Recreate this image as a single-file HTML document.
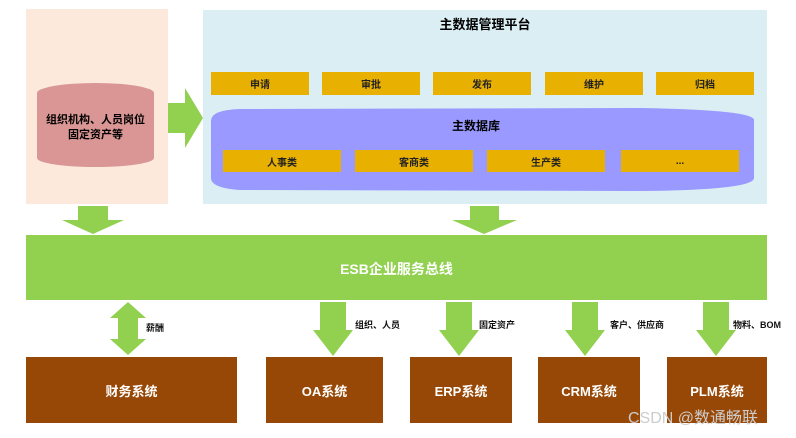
<!DOCTYPE html>
<html><head><meta charset="utf-8"><style>
body{margin:0;background:#fff;width:796px;height:438px;overflow:hidden;position:relative;font-family:"Liberation Sans","Noto Sans CJK SC",sans-serif}
.a{position:absolute}
.y{position:absolute;background:#e8b000;font-size:10px;font-weight:bold;display:flex;align-items:center;justify-content:center;color:#222}
.b{position:absolute;background:#984806;color:#fff;font-weight:bold;font-size:13px;display:flex;align-items:center;justify-content:center;top:357px;height:66px}
.l{position:absolute;font-size:9px;font-weight:bold;color:#111}
</style></head><body>
<div class="a" style="left:26px;top:9px;width:142px;height:195px;background:#fce9dc"></div>
<div class="a" style="left:203px;top:10px;width:564px;height:194px;background:#dbeef4"></div>
<svg class="a" style="left:0;top:0" width="796" height="438">
<ellipse cx="95.5" cy="93" rx="58.5" ry="10" fill="#d99694"/>
<rect x="37" y="93" width="117" height="65" fill="#d99694"/>
<ellipse cx="95.5" cy="158" rx="58.5" ry="9" fill="#d99694"/>
<polygon points="168,103 185,103 185,88 203,118 185,148 185,133 168,133" fill="#92d050"/>
<path d="M211,120 Q212,110 240,109 L640,108 Q754,110 754,120 L754,178 Q754,190 640,191 L240,190 Q211,188 211,178 Z" fill="#9999ff"/>
<polygon points="78,206 108,206 108,220 124,220 93,234 62,220 78,220" fill="#92d050"/>
<polygon points="470,206 499,206 499,220 517,220 484,234 452,220 470,220" fill="#92d050"/>
<rect x="26" y="235" width="741" height="65" fill="#92d050"/>
<polygon points="128,302 146,318 138,318 138,339 146,339 128,355 110,339 118,339 118,318 110,318" fill="#92d050"/>
<g fill="#92d050">
<polygon points="320,302 346,302 346,330 353,330 333,356 313,330 320,330"/>
<polygon points="446,302 472,302 472,330 479,330 459,356 439,330 446,330"/>
<polygon points="572,302 598,302 598,330 605,330 585,356 565,330 572,330"/>
<polygon points="703,302 729,302 729,330 736,330 716,356 696,330 703,330"/>
</g>
</svg>
<div class="a" style="left:37px;top:113px;width:117px;text-align:center;font-size:11px;font-weight:bold;line-height:15px">组织机构、人员岗位<br>固定资产等</div>
<div class="a" style="left:203px;top:14px;width:564px;text-align:center;font-size:13px;font-weight:bold">主数据管理平台</div>
<div class="y" style="left:211px;top:72px;width:98px;height:23px">申请</div>
<div class="y" style="left:322px;top:72px;width:98px;height:23px">审批</div>
<div class="y" style="left:433px;top:72px;width:98px;height:23px">发布</div>
<div class="y" style="left:545px;top:72px;width:98px;height:23px">维护</div>
<div class="y" style="left:656px;top:72px;width:98px;height:23px">归档</div>
<div class="a" style="left:211px;top:117px;width:530px;text-align:center;font-size:12px;font-weight:bold">主数据库</div>
<div class="y" style="left:223px;top:150px;width:118px;height:22px">人事类</div>
<div class="y" style="left:355px;top:150px;width:118px;height:22px">客商类</div>
<div class="y" style="left:487px;top:150px;width:118px;height:22px">生产类</div>
<div class="y" style="left:621px;top:150px;width:118px;height:22px">...</div>
<div class="a" style="left:26px;top:259px;width:741px;text-align:center;color:#fff;font-size:14px;font-weight:bold">ESB企业服务总线</div>
<div class="l" style="left:146px;top:321px">薪酬</div>
<div class="l" style="left:355px;top:318px">组织、人员</div>
<div class="l" style="left:479px;top:318px">固定资产</div>
<div class="l" style="left:610px;top:318px">客户、供应商</div>
<div class="l" style="left:733px;top:318px">物料、BOM</div>
<div class="b" style="left:26px;width:211px">财务系统</div>
<div class="b" style="left:266px;width:117px">OA系统</div>
<div class="b" style="left:410px;width:102px">ERP系统</div>
<div class="b" style="left:538px;width:102px">CRM系统</div>
<div class="b" style="left:667px;width:100px">PLM系统</div>
<div class="a" style="left:628px;top:404px;font-size:16px;color:#ccc;white-space:nowrap">CSDN @数通畅联</div>
</body></html>
